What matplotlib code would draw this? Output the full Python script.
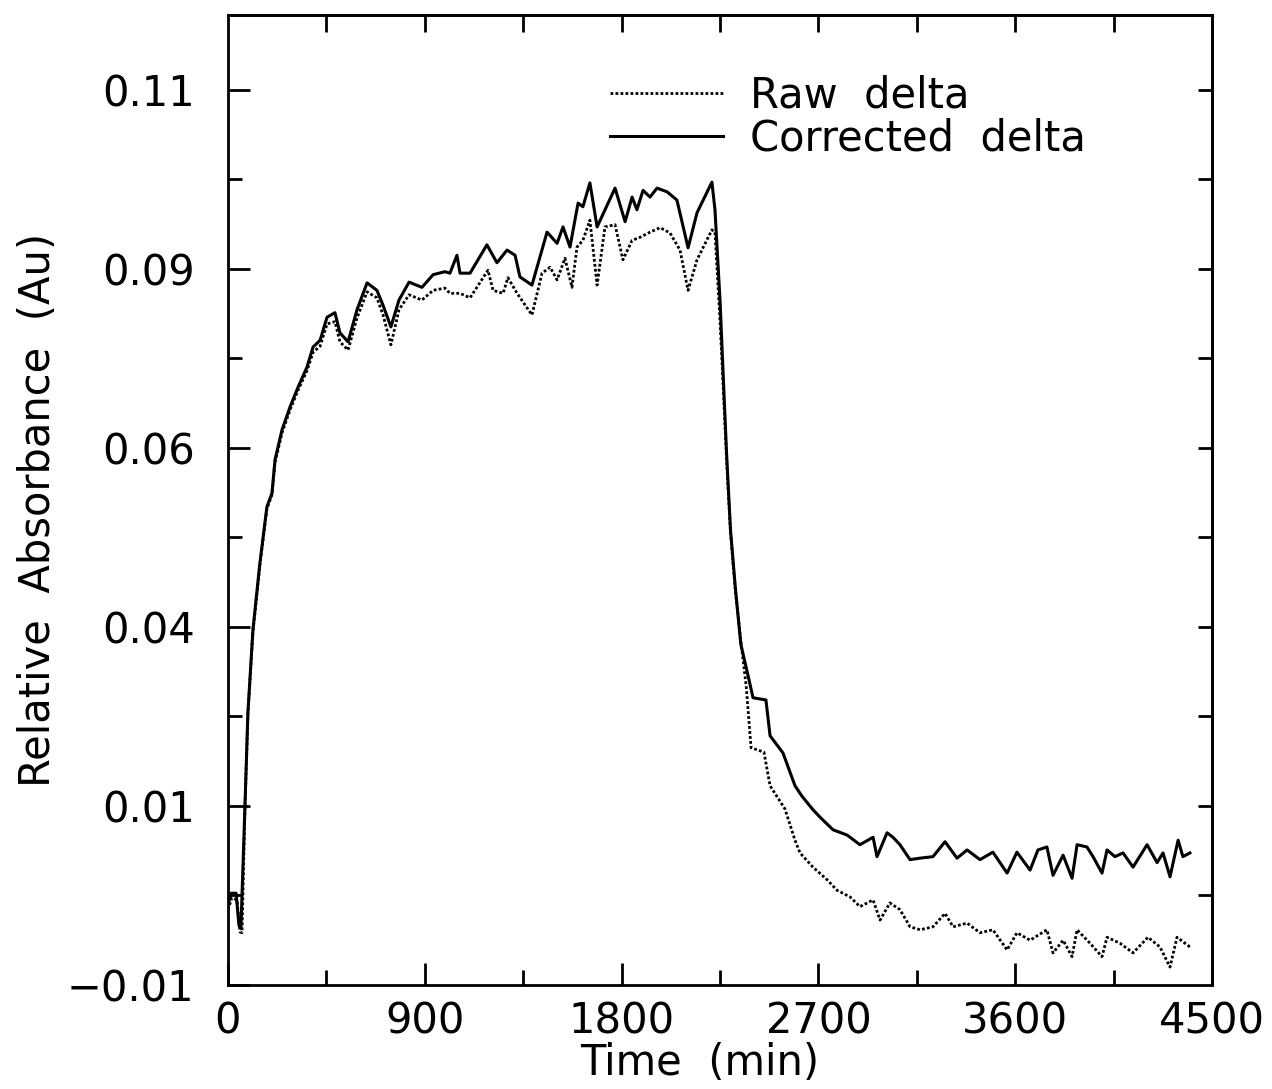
import matplotlib
matplotlib.use("Agg")
import matplotlib.pyplot as plt

# ---------------- data ----------------
corr_time = [0, 14, 37, 50, 59, 78, 91, 114, 146, 178, 201, 215, 247, 284, 320, 361,
             389, 421, 453, 489, 512, 549, 590, 636, 681, 709, 745, 782, 828, 887, 938, 992,
             1015, 1047, 1061, 1107, 1184, 1230, 1276, 1313, 1335, 1390, 1459, 1505, 1532, 1564,
             1601, 1623, 1655, 1688, 1770, 1816, 1848, 1870, 1898, 1930, 1962, 2008, 2053, 2104,
             2145, 2213, 2227,
             2250, 2265, 2280, 2298, 2320, 2345, 2378, 2401, 2460, 2479, 2538, 2593, 2625, 2675,
             2707, 2767, 2831, 2890, 2950, 2968, 3014, 3041, 3073, 3119, 3165, 3224, 3279, 3334,
             3380, 3439, 3498, 3563, 3608, 3668, 3704, 3745, 3773, 3819, 3860, 3883, 3928, 3956,
             3997, 4020, 4056, 4093, 4139, 4203, 4249, 4276, 4308, 4345, 4367, 4399]
corr_abs = [0.0007, 0.0023, 0.0023, -0.0020, -0.0024, 0.0144, 0.0265, 0.0376, 0.0466, 0.0541,
            0.0559, 0.0604, 0.0644, 0.0675, 0.0701, 0.0728, 0.0755, 0.0764, 0.0795, 0.0801,
            0.0774, 0.0762, 0.0805, 0.0841, 0.0831, 0.0811, 0.0782, 0.0818, 0.0842, 0.0835,
            0.0852, 0.0856,
            0.0854, 0.0878, 0.0854, 0.0854, 0.0892, 0.0868, 0.0885, 0.0878, 0.0849, 0.0838,
            0.0909, 0.0894, 0.0916, 0.0889, 0.0948, 0.0943, 0.0975, 0.0916, 0.0968, 0.0923,
            0.0956, 0.0939, 0.0965, 0.0956, 0.0968, 0.0963, 0.0952, 0.0888, 0.0935, 0.0976,
            0.0939,
            0.0818, 0.0715, 0.0613, 0.0510, 0.0433, 0.0357, 0.0315, 0.0285, 0.0282, 0.0234,
            0.0211, 0.0167, 0.0153, 0.0135, 0.0125, 0.0108, 0.0101, 0.0088, 0.0098, 0.0072,
            0.0104, 0.0098, 0.0088, 0.0068, 0.0070, 0.0072, 0.0092, 0.0070, 0.0081, 0.0068,
            0.0078, 0.0050, 0.0078, 0.0054, 0.0081, 0.0085, 0.0047, 0.0074, 0.0043, 0.0088,
            0.0085, 0.0072, 0.0050, 0.0081, 0.0072, 0.0077, 0.0058, 0.0088, 0.0064, 0.0077,
            0.0045, 0.0094, 0.0072, 0.0077]

raw_time = [0, 18, 41, 55, 64, 78, 91, 114, 146, 178, 201, 215, 247, 284, 320, 361,
            389, 421, 453, 489, 512, 549, 590, 636, 681, 709, 745, 782, 828, 887, 938, 992,
            1015, 1061, 1107, 1189, 1212, 1258, 1280, 1322, 1390, 1436, 1473, 1505, 1541, 1573,
            1596, 1623, 1655, 1688, 1724, 1770, 1806, 1848, 1884, 1930, 1976, 2021, 2067, 2104,
            2145, 2213, 2227,
            2250, 2265, 2280, 2298, 2320, 2345, 2370, 2392, 2451, 2479, 2547, 2593, 2616, 2675,
            2740, 2785, 2845, 2890, 2950, 2982, 3027, 3073, 3119, 3165, 3224, 3279, 3316, 3380,
            3439, 3498, 3563, 3608, 3668, 3745, 3773, 3819, 3860, 3883, 3942, 3997, 4020, 4079,
            4139, 4207, 4262, 4308, 4340, 4399]
raw_abs = [0.0001, 0.0017, 0.0014, -0.0029, -0.0030, 0.0141, 0.0262, 0.0373, 0.0463, 0.0538,
           0.0557, 0.0600, 0.0640, 0.0671, 0.0697, 0.0723, 0.0748, 0.0756, 0.0786, 0.0789,
           0.0762, 0.0751, 0.0794, 0.0829, 0.0821, 0.0798, 0.0758, 0.0805, 0.0825, 0.0818,
           0.0831, 0.0834,
           0.0827, 0.0827, 0.0821, 0.0858, 0.0831, 0.0827, 0.0848, 0.0827, 0.0798, 0.0854,
           0.0862, 0.0845, 0.0874, 0.0835, 0.0889, 0.0898, 0.0925, 0.0838, 0.0916, 0.0919,
           0.0872, 0.0898, 0.0902, 0.0909, 0.0915, 0.0908, 0.0885, 0.0831, 0.0872, 0.0912,
           0.0909,
           0.0790, 0.0700, 0.0604, 0.0507, 0.0429, 0.0362, 0.0300, 0.0218, 0.0212, 0.0167,
           0.0136, 0.0094, 0.0077, 0.0058, 0.0041, 0.0027, 0.0018, 0.0005, 0.0014, -0.0013,
           0.0010, 0.0001, -0.0022, -0.0026, -0.0022, -0.0004, -0.0022, -0.0017, -0.0030,
           -0.0026, -0.0053, -0.0030, -0.0040, -0.0026, -0.0057, -0.0040, -0.0062, -0.0026,
           -0.0044, -0.0062, -0.0036, -0.0044, -0.0057, -0.0036, -0.0049, -0.0076, -0.0036,
           -0.0049]

series_labels = ["Raw  delta", "Corrected  delta"]
x_major_ticks = [0, 900, 1800, 2700, 3600, 4500]
x_minor_ticks = [450, 1350, 2250, 3150, 4050]
y_major_ticks = [-0.01, 0.014, 0.038, 0.062, 0.086, 0.110]
y_minor_ticks = [0.002, 0.026, 0.050, 0.074, 0.098]
y_tick_labels = ["\u22120.01", "0.01", "0.04", "0.06", "0.09", "0.11"]
x_label = "Time  (min)"
y_label = "Relative  Absorbance  (Au)"

assert len(corr_time) == len(corr_abs)
assert len(raw_time) == len(raw_abs)

# ---------------- figure ----------------
plt.rcParams['font.family'] = ['DejaVu Sans']
FS = 30
fig = plt.figure(figsize=(12.72, 10.89), dpi=100)
ax = fig.add_axes([228/1272, 1-985/1089, (1212-228)/1272, (985-15)/1089])

l_raw, = ax.plot(raw_time, raw_abs, color='black', lw=2.0, linestyle=(0, (1, 0.8)))
l_cor, = ax.plot(corr_time, corr_abs, color='black', lw=2.2, linestyle='-')

ax.set_xlim(0, 4500)
ax.set_ylim(-0.01, 0.12)

for s in ax.spines.values():
    s.set_linewidth(2.0)

ax.set_xticks(x_major_ticks)
ax.set_xticks(x_minor_ticks, minor=True)
ax.set_xticklabels([str(v) for v in x_major_ticks])
ax.set_yticks(y_major_ticks)
ax.set_yticks(y_minor_ticks, minor=True)
ax.set_yticklabels(y_tick_labels)
ax.tick_params(which='both', direction='in', width=2.0, labelsize=FS, top=False, right=False)
ax.tick_params(axis='x', which='major', length=16, pad=11)
ax.tick_params(axis='x', which='minor', length=11)
ax.tick_params(axis='y', which='major', length=16, pad=24)
ax.tick_params(axis='y', which='minor', length=10)

top = ax.secondary_xaxis('top')
top.set_xticks(x_major_ticks[1:-1] + x_minor_ticks)
top.tick_params(direction='in', length=12, width=2.0, labeltop=False)
top.spines['top'].set_linewidth(2.0)
right = ax.secondary_yaxis('right')
right.set_yticks(y_major_ticks[1:] + y_minor_ticks)
right.tick_params(direction='in', length=10, width=2.0, labelright=False)
right.spines['right'].set_linewidth(2.0)

fig.text(700/1272, 1-1063/1089, x_label, fontsize=FS, ha='center', va='center')
fig.text(38/1272, 1-510/1089, y_label, fontsize=FS, ha='center', va='center', rotation=90)

leg = ax.legend([l_raw, l_cor], series_labels, loc='upper left',
                bbox_to_anchor=((610-228)/984, (985-75)/970), frameon=False,
                fontsize=FS, handlelength=2.7, handletextpad=0.65, labelspacing=0.02,
                borderpad=0, borderaxespad=0)

fig.savefig("out.png", dpi=100)
